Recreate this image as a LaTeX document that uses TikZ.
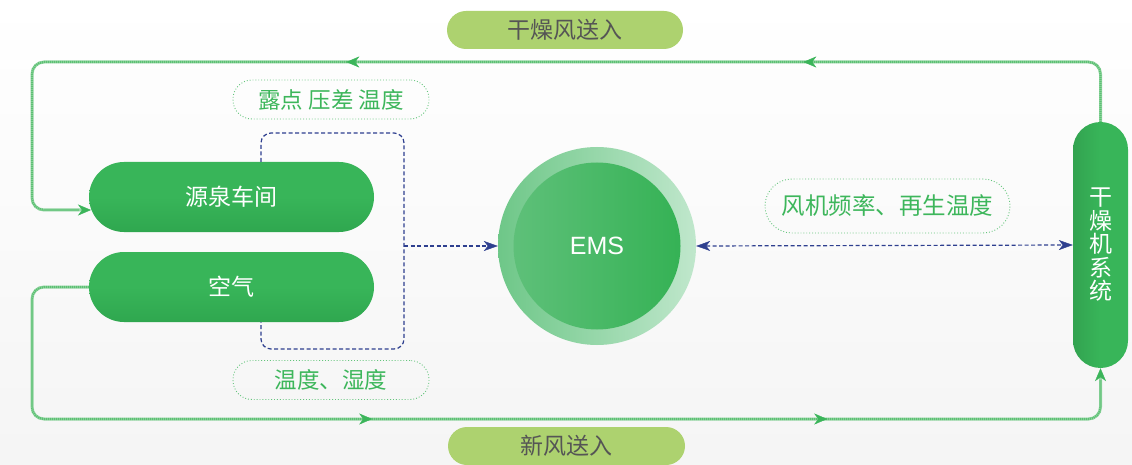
\documentclass[tikz,border=0pt]{standalone}
\usepackage{fontspec}
\setmainfont{Liberation Sans}
\newfontfamily\cjk{Noto Sans CJK SC}
\usetikzlibrary{arrows.meta,decorations.markings,shapes.misc}
\definecolor{gline}{HTML}{5CC073}
\definecolor{glinel}{HTML}{9AD8A8}
\definecolor{gtip}{HTML}{3BB55A}
\definecolor{bline}{HTML}{2E3F8F}
\definecolor{boxg}{HTML}{38B559}
\definecolor{boxgd}{HTML}{2FA74F}
\definecolor{pillg}{HTML}{ADD26F}
\definecolor{pilltext}{HTML}{555555}
\definecolor{labg}{HTML}{3DB65B}
\tikzset{
  gt/.tip={Stealth[length=13pt,width=11pt,inset=4pt,color=gtip,fill=gtip,line width=0.4pt]},
  bt/.tip={Stealth[length=14pt,width=10pt,inset=4pt,color=bline,fill=bline,line width=0.4pt]},
  gbox/.style={rectangle, rounded corners=35pt, minimum width=285pt, minimum height=70pt,
    inner sep=0pt, top color=boxg, bottom color=boxgd, middle color=boxg, text=white,
    font=\cjk\fontsize{23}{23}\selectfont},
  pill/.style={rectangle, rounded corners=19pt, minimum width=236pt, minimum height=38pt,
    inner sep=0pt, fill=pillg, text=pilltext, font=\cjk\fontsize{23}{23}\selectfont},
  dlab/.style={rectangle, rounded corners=19pt, minimum height=39pt, inner sep=0pt,
    draw=labg!80, dotted, line width=0.9pt, text=labg, font=\cjk\fontsize{22.5}{23}\selectfont},
  glinestyle/.style={draw=glinel, line width=3pt, rounded corners=12pt},
  gdash/.style={draw=gline, line width=2.2pt, dash pattern=on 1.2pt off 0.8pt, rounded corners=12pt},
  bdash/.style={draw=bline, line width=1.2pt, dash pattern=on 4pt off 2.5pt},
}
\begin{document}
\begin{tikzpicture}[x=1pt,y=-1pt]
\useasboundingbox (0,0) rectangle (1132,465);
\shade[top color=white, bottom color=black!4] (0,0) rectangle (1132,465);

% main nodes
\node[gbox] (src) at (231.5,197) {源泉车间};
\node[gbox] (air) at (231.5,287) {空气};
\node[rectangle, rounded corners=27.5pt, minimum width=55pt, minimum height=246pt, inner sep=0pt,
  left color=boxg!90!black, right color=boxg, middle color=boxg, text=white, align=center,
  font=\cjk\fontsize{23}{23.5}\selectfont] (dry) at (1100.5,245) {干\\燥\\机\\系\\统};
\node[circle, minimum size=198pt, inner sep=0pt,
  left color={rgb,255:red,110;green,199;blue,136}, right color={rgb,255:red,192;green,231;blue,204}] (ems) at (597,246) {};
\node[circle, minimum size=167pt, inner sep=0pt,
  left color={rgb,255:red,94;green,192;blue,121}, right color={rgb,255:red,53;green,178;blue,85},
  text=white, font=\fontsize{25}{25}\selectfont] (emsin) at (597,246) {EMS};

% pills
\node[pill] (dryin) at (565,30) {干燥风送入};
\node[pill, minimum width=237pt] (freshin) at (566.5,446) {新风送入};

% dotted labels
\node[dlab, minimum width=196pt] (lab1) at (331,99.5) {露点 压差 温度};
\node[dlab, minimum width=196pt] (lab2) at (331,380) {温度、湿度};
\node[dlab, minimum width=245pt, minimum height=54pt, rounded corners=27pt,
  font=\cjk\fontsize{23.5}{24}\selectfont] (lab3) at (887.5,206) {风机频率、再生温度};

% connector coordinates
\coordinate (tr) at (1100.5,62);
\coordinate (tl) at (32,62);
\coordinate (srcin) at (91,210);
\coordinate (bl) at (32,419);
\coordinate (br) at (1100.5,419);
\coordinate (brk) at (404,246);

% top green loop: dryer -> source workshop
\path[glinestyle, -gt] (dry.north) -- (tr) -- (tl) |- (srcin);
\path[gdash, shorten >=12pt] (dry.north) -- (tr) -- (tl) |- (srcin);
\path[decorate, decoration={markings,
  mark=at position 357pt with {\arrow{gt}},
  mark=at position 814pt with {\arrow{gt}}}]
  (dry.north) -- (tr) -- (tl) |- (srcin);

% bottom green loop: air -> dryer
\path[glinestyle, -gt] (air.west) -| (bl) -- (br) -- (dry.south);
\path[gdash, shorten >=12pt] (air.west) -| (bl) -- (br) -- (dry.south);
\path[decorate, decoration={markings,
  mark=at position 529pt with {\arrow{gt}},
  mark=at position 984pt with {\arrow{gt}}}]
  (air.west) -| (bl) -- (br) -- (dry.south);

% blue bracket
\draw[bdash, rounded corners=10pt] ([xshift=29.5pt]src.north) |- (404,133) -- (404,349) -| ([xshift=29.5pt]air.south);
\draw[bdash, -bt] (brk) -- (ems.west);
\draw[bdash, bt-bt] (ems.east) -- (dry.west);
\end{tikzpicture}
\end{document}
